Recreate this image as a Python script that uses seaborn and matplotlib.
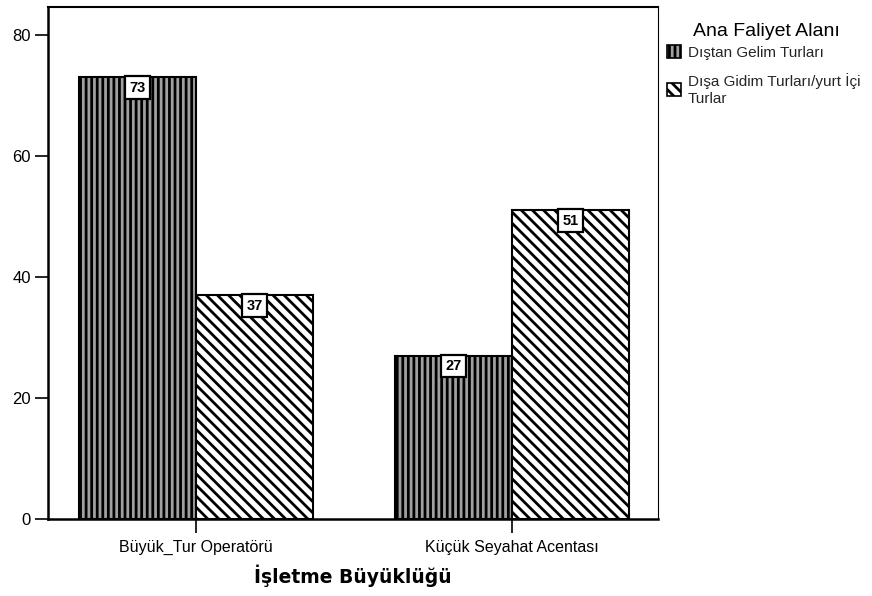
import matplotlib
matplotlib.use("Agg")
import matplotlib.pyplot as plt
from matplotlib.patches import Patch
import seaborn as sns
import pandas as pd

# Data: counts of firms by size and main activity area
categories = ["Büyük_Tur Operatörü", "Küçük Seyahat Acentası"]
activity_areas = ["Dıştan Gelim Turları", "Dışa Gidim Turları/yurt İçi\nTurlar"]
inbound_counts = [73, 27]
outbound_counts = [37, 51]
y_ticks = [0, 20, 40, 60, 80]

df = pd.DataFrame({
    "size": categories * 2,
    "area": [activity_areas[0]] * 2 + [activity_areas[1]] * 2,
    "count": inbound_counts + outbound_counts,
})

sns.set_theme(style="white")
plt.rcParams["font.family"] = ["Liberation Sans", "DejaVu Sans"]
plt.rcParams["hatch.color"] = "black"
plt.rcParams["hatch.linewidth"] = 2.0

fig = plt.figure(figsize=(8.72, 5.96), dpi=100)
ax = fig.add_axes([48 / 872, 1 - 519 / 596, 610 / 872, 512 / 596])

face_colors = ["#a0a0a0", "white"]
sns.barplot(data=df, x="size", y="count", hue="area", hue_order=activity_areas,
            order=categories, width=0.74, ax=ax, legend=False,
            palette=face_colors, edgecolor="black", linewidth=1.5,
            saturation=1)

hatches = ["|||", "\\\\\\"]
for container, hatch in zip(ax.containers, hatches):
    for bar in container:
        bar.set_hatch(hatch)
        bar.set_edgecolor("black")
    # value boxes at the top of each bar
    for bar in container:
        val = bar.get_height()
        ax.annotate(f"{val:.0f}", (bar.get_x() + bar.get_width() / 2, val),
                    xytext=(0, -2.5), textcoords="offset points",
                    ha="center", va="top", fontsize=10.5, fontweight="bold",
                    color="black",
                    bbox=dict(boxstyle="square,pad=0.3", fc="white",
                              ec="black", lw=1.6))

ax.set_xlim(-0.468, 1.462)
ax.set_ylim(0, 84.6)
ax.set_yticks(y_ticks)
ax.set_yticklabels([str(t) for t in y_ticks])

for side in ["left", "bottom"]:
    ax.spines[side].set_linewidth(1.8)
    ax.spines[side].set_color("black")
ax.spines["top"].set_linewidth(1.5)
ax.spines["top"].set_color("black")
ax.spines["right"].set_linewidth(0.8)
ax.spines["right"].set_color("black")

ax.tick_params(axis="y", direction="out", length=9.5, width=1.2, pad=3,
               labelsize=12, colors="black", left=True)
ax.tick_params(axis="x", direction="out", length=10, width=1.2, pad=5,
               labelsize=11.5, colors="black", bottom=True)
ax.set_ylabel("")
ax.set_xlabel("İşletme Büyüklüğü", fontsize=13.5, fontweight="bold",
              family="DejaVu Sans", labelpad=7, color="black")

# Legend: title placed as its own text, entries below it
fig.text(766 / 872, 1 - 32 / 596, "Ana Faliyet Alanı", ha="center",
         va="center", fontsize=14, color="black")
handles = [Patch(facecolor=face_colors[0], edgecolor="black", hatch=hatches[0], lw=1.2),
           Patch(facecolor="white", edgecolor="black", hatch=hatches[1], lw=1.2)]
fig.legend(handles, activity_areas,
           loc="upper left", bbox_to_anchor=(661 / 872, 1 - 39 / 596),
           frameon=False, fontsize=11,
           handlelength=0.9, handleheight=0.9, handletextpad=0.45,
           labelspacing=0.9, borderaxespad=0)

fig.savefig("out.png", dpi=100)
